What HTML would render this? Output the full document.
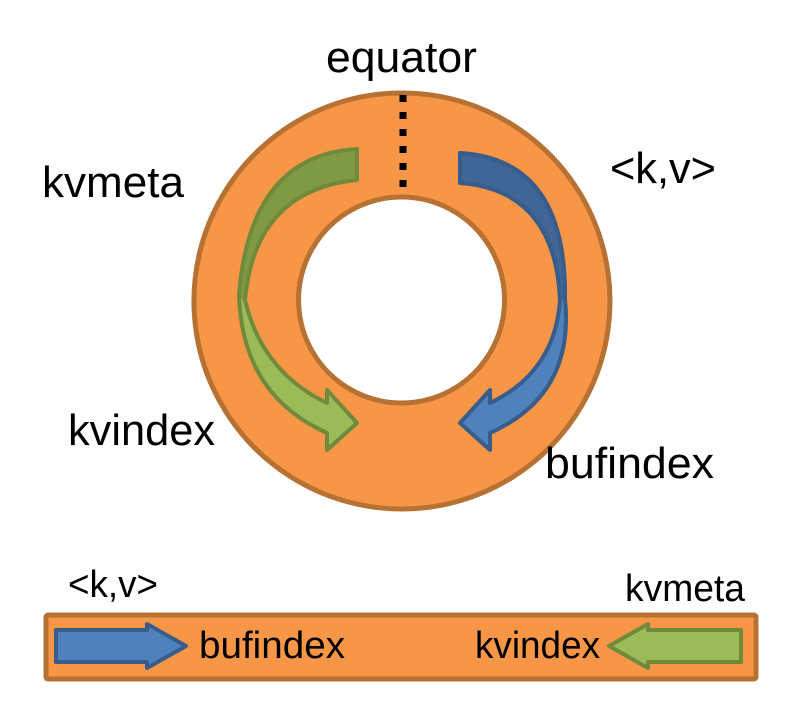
<!DOCTYPE html>
<html><head><meta charset="utf-8"><style>body{margin:0;background:#fff}svg{display:block}</style></head><body>
<svg width="790" height="710" viewBox="0 0 790 710" xmlns="http://www.w3.org/2000/svg" font-family="Liberation Sans, sans-serif">
<defs>
<linearGradient id="gg" x1="0" y1="149" x2="0" y2="450" gradientUnits="userSpaceOnUse"><stop offset="0.5" stop-color="#7f9a45"/><stop offset="0.5" stop-color="#9bbb59"/></linearGradient>
<linearGradient id="bb" x1="0" y1="149" x2="0" y2="450" gradientUnits="userSpaceOnUse"><stop offset="0.5" stop-color="#3f6697"/><stop offset="0.5" stop-color="#4f81bd"/></linearGradient>
</defs>
<path d="M402,93 A208,208 0 1 1 401.9,93 Z M401.5,197 A103,103 0 1 0 401.6,197 Z" fill="#f79646" fill-rule="evenodd" stroke="#b77133" stroke-width="5"/>
<line x1="403" y1="95" x2="403" y2="192" stroke="#000" stroke-width="7" stroke-dasharray="7,10"/>
<path d="M357,149 Q250,155 239,295 Q242,395 327,433 L327,450 L357,423 L327,390 L327,403 Q262,372 245,300 Q255,190 357,180 Z" fill="url(#gg)" stroke="#71893a" stroke-width="4" stroke-linejoin="round"/>
<path d="M460,153 Q567,159 565,299 Q575,395 490,433 L490,450 L460,423 L490,390 L490,403 Q555,372 560,300 Q555,190 460,183 Z" fill="url(#bb)" stroke="#385d8a" stroke-width="4" stroke-linejoin="round"/>
<rect x="46" y="615" width="710" height="64" fill="#f79646" stroke="#b77133" stroke-width="5" rx="2"/>
<path d="M56,630 L147,630 L147,624 L186,646 L147,668 L147,662 L56,662 Z" fill="#4f81bd" stroke="#385d8a" stroke-width="4" stroke-linejoin="round"/>
<path d="M741,630 L648,630 L648,624 L609,646 L648,668 L648,662 L741,662 Z" fill="#9bbb59" stroke="#71893a" stroke-width="4" stroke-linejoin="round"/>
<g font-size="44" fill="#000">
<text x="326" y="72" textLength="151" lengthAdjust="spacingAndGlyphs">equator</text>
<text x="42" y="197" textLength="142" lengthAdjust="spacingAndGlyphs">kvmeta</text>
<text x="610" y="183" textLength="106" lengthAdjust="spacingAndGlyphs">&lt;k,v&gt;</text>
<text x="68" y="445" textLength="147" lengthAdjust="spacingAndGlyphs">kvindex</text>
<text x="545" y="478" textLength="169" lengthAdjust="spacingAndGlyphs">bufindex</text>
</g>
<g font-size="38" fill="#000">
<text x="68" y="597" textLength="90" lengthAdjust="spacingAndGlyphs">&lt;k,v&gt;</text>
<text x="625" y="601" textLength="120" lengthAdjust="spacingAndGlyphs">kvmeta</text>
<text x="199" y="658" textLength="146" lengthAdjust="spacingAndGlyphs">bufindex</text>
<text x="475" y="658" textLength="125" lengthAdjust="spacingAndGlyphs">kvindex</text>
</g>
</svg>
</body></html>
